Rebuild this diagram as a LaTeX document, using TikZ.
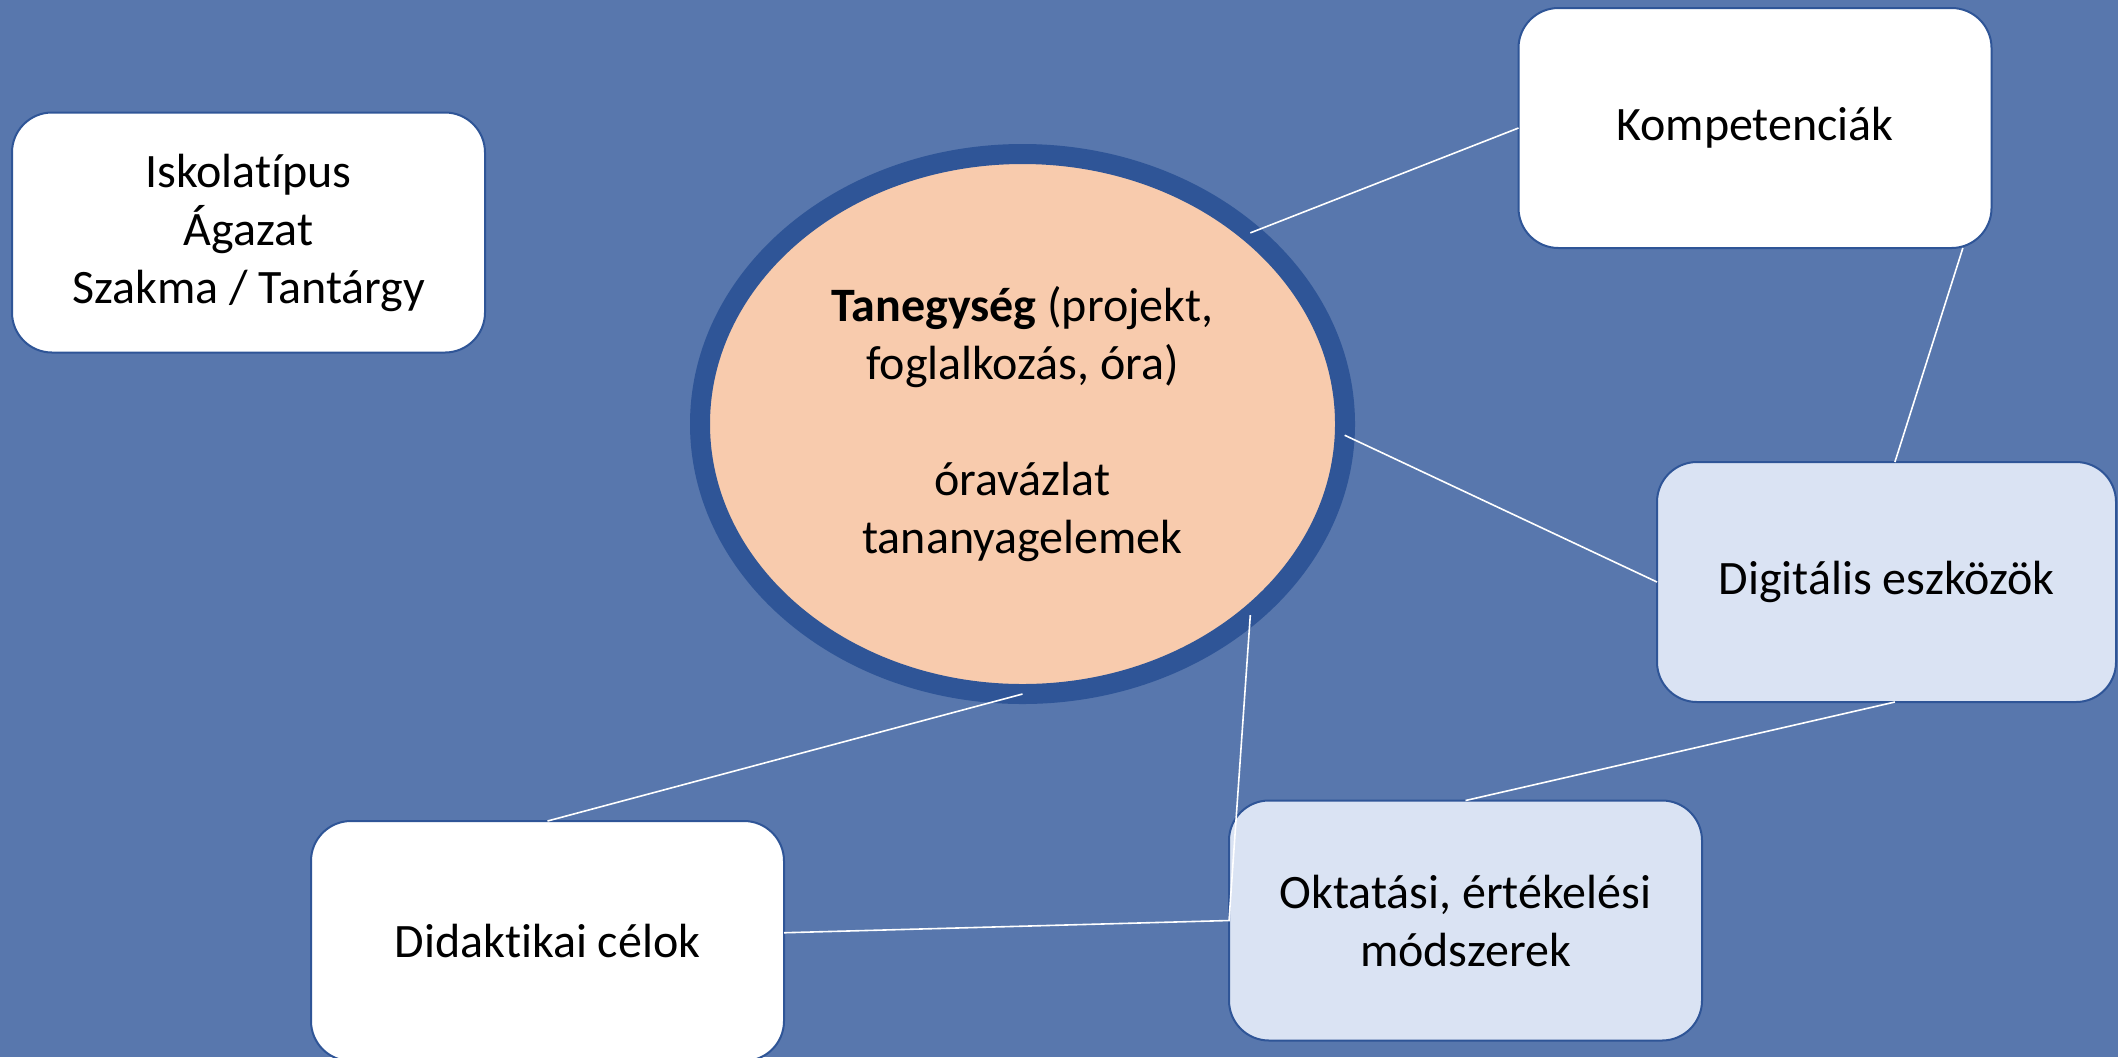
\documentclass[tikz,border=0pt]{standalone}
\usepackage{fontspec}
\setmainfont{Carlito}[Ligatures=NoCommon]
\usetikzlibrary{shapes.geometric}
\definecolor{bgblue}{HTML}{5877AD}
\definecolor{darkbl}{HTML}{2F5597}
\definecolor{peach}{HTML}{F8CBAD}
\definecolor{lightbl}{HTML}{DAE3F3}
\tikzset{
  txt/.style={font=\fontsize{24}{29}\selectfont, align=center, text=black},
  boxw/.style={txt, draw=darkbl, line width=1pt, fill=white, rounded corners=20pt,
    rectangle, inner sep=0pt, outer sep=0pt, minimum width=236.5pt, minimum height=120pt},
  boxb/.style={boxw, fill=lightbl},
  conn/.style={draw=white, line width=0.8pt}
}
\begin{document}
\begin{tikzpicture}[x=0.5pt,y=-0.5pt]
\useasboundingbox (0,0) rectangle (2118,1057);
\clip (0,0) rectangle (2118,1057);
\fill[bgblue] (0,0) rectangle (2118,1057);

\node[txt, ellipse, draw=darkbl, line width=10pt, fill=peach, inner sep=0pt, outer sep=0pt,
  minimum width=322.5pt, minimum height=270pt] (ell) at (1022.5,424)
  {\textbf{Tanegység} (projekt,\\foglalkozás, óra)\\[29pt]óravázlat\\tananyagelemek};

\node[boxw] (isk) at (248.5,232.5) {Iskolatípus\\Ágazat\\Szakma / Tantárgy};
\node[boxw] (komp) at (1755,128) {Kompetenciák};
\node[boxb, minimum width=229.5pt] (digi) at (1886.5,582) {Digitális eszközök};
\node[boxb] (okt) at (1465.5,920.5) {Oktatási, értékelési\\módszerek};
\node[boxw] (did) at (547.5,941) {Didaktikai célok};

\draw[conn] (ell.40) -- (komp.west);
\draw[conn] (komp.-30.7) -- (digi.86);
\draw[conn] (ell.-2) -- (digi.west);
\draw[conn] (digi.-86) -- (okt.north);
\draw[conn] (ell.south) -- (did.north);
\draw[conn] (ell.-40) -- (okt.west) -- (did.2);
\end{tikzpicture}
\end{document}
